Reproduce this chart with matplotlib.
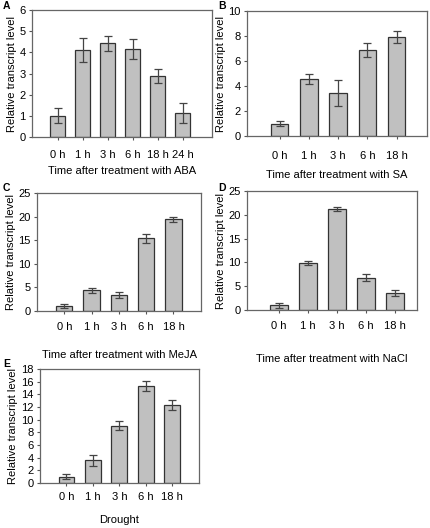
import numpy as np
import matplotlib.pyplot as plt

plt.rcParams['font.family'] = ['Liberation Sans', 'DejaVu Sans']

# panel A - ABA
aba_t = ['0 h', '1 h', '3 h', '6 h', '18 h', '24 h']
aba_v = [1.0, 4.1, 4.42, 4.15, 2.87, 1.15]
aba_e = [0.35, 0.56, 0.34, 0.46, 0.33, 0.47]

# panel B - SA
sa_t = ['0 h', '1 h', '3 h', '6 h', '18 h']
sa_v = [1.0, 4.57, 3.42, 6.88, 7.95]
sa_e = [0.2, 0.4, 1.05, 0.58, 0.48]

# panel C - MeJA
meja_t = ['0 h', '1 h', '3 h', '6 h', '18 h']
meja_v = [1.05, 4.38, 3.4, 15.4, 19.4]
meja_e = [0.5, 0.56, 0.7, 0.9, 0.6]

# panel D - NaCl
nacl_t = ['0 h', '1 h', '3 h', '6 h', '18 h']
nacl_v = [0.98, 9.8, 21.3, 6.8, 3.56]
nacl_e = [0.5, 0.4, 0.4, 0.7, 0.6]

# panel E - drought
dr_t = ['0 h', '1 h', '3 h', '6 h', '18 h']
dr_v = [1.0, 3.6, 9.03, 15.36, 12.25]
dr_e = [0.4, 0.9, 0.7, 0.8, 0.8]

W, H = 430, 528
fig = plt.figure(figsize=(W / 100, H / 100), dpi=100)
FS = 8


def panel(box, letter, labels, vals, errs, ymax, ystep, xlim, xlabel, lpos, tpad, lpad):
    x0, y0, x1, y1 = box  # pixel coords (left, top, right, bottom)
    ax = fig.add_axes([x0 / W, 1 - y1 / H, (x1 - x0) / W, (y1 - y0) / H])
    x = np.arange(len(vals))
    ax.bar(x, vals, width=0.6, color='#c0c0c0', edgecolor='#333333', linewidth=0.9, zorder=2)
    ax.errorbar(x, vals, yerr=errs, fmt='none', ecolor='#444444', elinewidth=0.9,
                capsize=3.2, capthick=0.9, zorder=3)
    ax.set_xlim(*xlim)
    ax.set_ylim(0, ymax)
    ax.set_yticks(np.arange(0, ymax + 0.01, ystep))
    ax.set_xticks(x)
    ax.set_xticklabels(labels)
    ax.tick_params(axis='x', length=2.5, pad=tpad, labelsize=FS, color='#555555')
    ax.tick_params(axis='y', length=2.5, pad=2, labelsize=FS, color='#555555')
    for s in ax.spines.values():
        s.set_color('#666666')
        s.set_linewidth(0.9)
    ax.set_xlabel(xlabel, fontsize=FS, labelpad=lpad)
    ax.set_ylabel('Relative transcript level', fontsize=FS, labelpad=2)
    fig.text(lpos[0] / W, 1 - lpos[1] / H, letter, fontsize=7.5, fontweight='bold',
             ha='left', va='center')
    return ax


panel((32, 10, 212, 137), 'A', aba_t, aba_v, aba_e, 6, 1, (-1.03, 6.18),
      'Time after treatment with ABA', (3, 6), 6.5, 5)
panel((247, 11, 427, 136), 'B', sa_t, sa_v, sa_e, 10, 2, (-1.12, 5.04),
      'Time after treatment with SA', (218, 6), 8, 7)
panel((37, 193, 201, 311), 'C', meja_t, meja_v, meja_e, 25, 5, (-1.0, 5.01),
      'Time after treatment with MeJA', (3, 188), 5.2, 13.5)
panel((247, 191, 417, 310), 'D', nacl_t, nacl_v, nacl_e, 25, 5, (-1.1, 4.75),
      'Time after treatment with NaCl', (218, 188), 5.2, 17)
panel((40, 369, 199, 483), 'E', dr_t, dr_v, dr_e, 18, 2, (-1.0, 5.01),
      'Drought', (3, 364), 4, 9.5)

fig.savefig('out.png', dpi=100)
